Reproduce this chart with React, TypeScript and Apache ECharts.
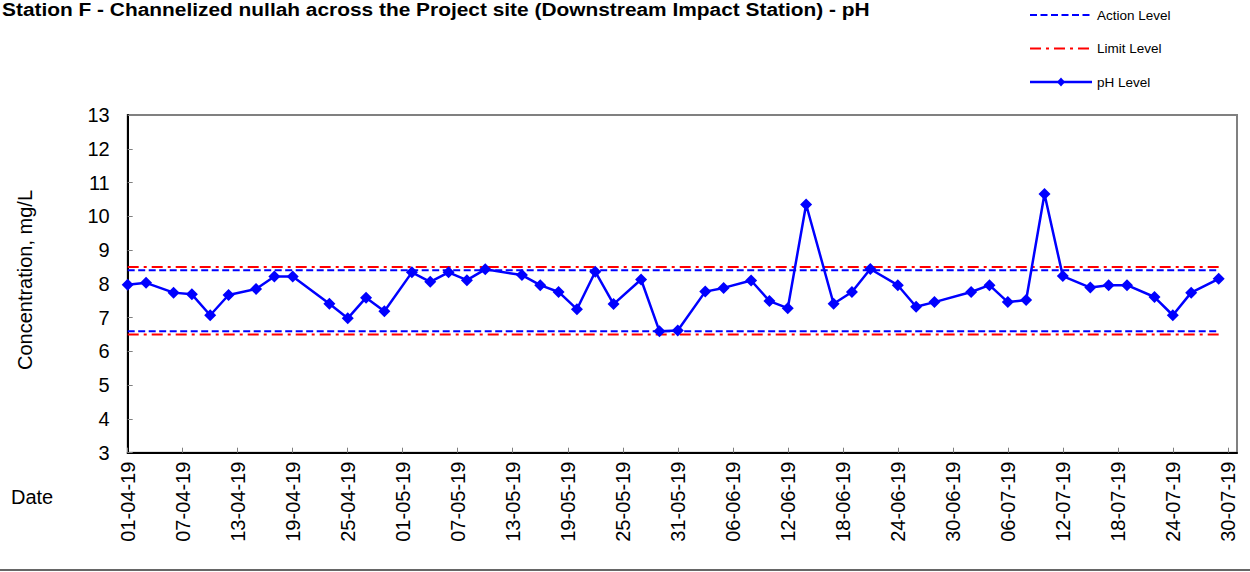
import React, { useEffect, useRef } from "react";
import * as echarts from "echarts";

const titleText =
  "Station F - Channelized nullah across the Project site (Downstream Impact Station) - pH";
const yAxisName = "Concentration, mg/L";
const xAxisName = "Date";
const legendNames = ["Action Level", "Limit Level", "pH Level"];

const sampleDates = [
  "01-04-19", "03-04-19", "06-04-19", "08-04-19", "10-04-19", "12-04-19", "15-04-19", "17-04-19", "19-04-19", "23-04-19",
  "25-04-19", "27-04-19", "29-04-19", "02-05-19", "04-05-19", "06-05-19", "08-05-19", "10-05-19", "14-05-19", "16-05-19",
  "18-05-19", "20-05-19", "22-05-19", "24-05-19", "27-05-19", "29-05-19", "31-05-19", "03-06-19", "05-06-19", "08-06-19",
  "10-06-19", "12-06-19", "14-06-19", "17-06-19", "19-06-19", "21-06-19", "24-06-19", "26-06-19", "28-06-19", "02-07-19",
  "04-07-19", "06-07-19", "08-07-19", "10-07-19", "12-07-19", "15-07-19", "17-07-19", "19-07-19", "22-07-19", "24-07-19",
  "26-07-19", "29-07-19",
];
const phValues = [
  7.97, 8.03, 7.74, 7.69, 7.07, 7.67, 7.85, 8.22, 8.22, 7.41,
  6.98, 7.59, 7.19, 8.34, 8.06, 8.34, 8.11, 8.43, 8.26, 7.96,
  7.76, 7.25, 8.36, 7.4, 8.13, 6.6, 6.62, 7.77, 7.88, 8.1,
  7.49, 7.28, 10.35, 7.41, 7.76, 8.44, 7.96, 7.32, 7.46, 7.76,
  7.96, 7.46, 7.52, 10.66, 8.23, 7.89, 7.96, 7.96, 7.61, 7.07,
  7.74, 8.15,
];
const actionLevels = [8.4, 6.6];
const limitLevels = [8.5, 6.5];
const axisStartDate = "01-04-19";
const axisEndDate = "31-07-19";
const levelStartDate = "01-04-19";
const levelEndDate = "29-07-19";
const xTickDays = 6;
const yMin = 3;
const yMax = 13;
const yStep = 1;

const DAY = 86400000;
function parseDate(s: string): number {
  const [d, m, y] = s.split("-").map((v) => parseInt(v, 10));
  return Date.UTC(2000 + y, m - 1, d);
}
const origin = parseDate(axisStartDate);
const toDay = (s: string) => Math.round((parseDate(s) - origin) / DAY);
const pad = (n: number) => (n < 10 ? "0" + n : "" + n);
function fmtDay(v: number): string {
  const dt = new Date(origin + Math.round(v) * DAY);
  return pad(dt.getUTCDate()) + "-" + pad(dt.getUTCMonth() + 1) + "-" + pad(dt.getUTCFullYear() % 100);
}

const FONT = "'Liberation Sans', Arial, sans-serif";
const BLUE = "#0000FF";
const RED = "#FF0000";
const ACTION_DASH = [7, 3.5];
const LIMIT_DASH = [11, 5, 3, 5];

export default function App() {
  const ref = useRef<HTMLDivElement>(null);
  useEffect(() => {
    if (!ref.current) return;
    const chart = echarts.init(ref.current, null, { renderer: "svg" });
    const phData = sampleDates.map((d, i) => [toDay(d), phValues[i]]);
    const x0 = toDay(levelStartDate);
    const x1 = toDay(levelEndDate);
    const levelSeries = (name: string, v: number, color: string, dash: number[]) => ({
      name,
      type: "line",
      data: [[x0, v], [x1, v]],
      symbol: "none",
      lineStyle: { color, width: 2, type: dash },
      itemStyle: { color },
      silent: true,
      z: 2,
    });

    const lgX1 = 1030;
    const lgX2 = 1092;
    const lgRows = [15, 48.5, 82];
    const legendGraphics: any[] = [];
    const legendStyles = [
      { stroke: BLUE, lineWidth: 2, lineDash: ACTION_DASH },
      { stroke: RED, lineWidth: 2, lineDash: LIMIT_DASH },
      { stroke: BLUE, lineWidth: 2.5 },
    ];
    legendNames.forEach((name, i) => {
      const y = lgRows[i];
      legendGraphics.push({
        type: "line",
        shape: { x1: lgX1, y1: y, x2: lgX2, y2: y },
        style: legendStyles[i],
      });
      legendGraphics.push({
        type: "text",
        x: 1097,
        y,
        style: {
          text: name,
          fontSize: 13.5,
          fontFamily: FONT,
          fill: "#000",
          align: "left",
          verticalAlign: "middle",
        },
      });
    });
    const cx = (lgX1 + lgX2) / 2;
    legendGraphics.push({
      type: "polygon",
      shape: { points: [[cx, lgRows[2] - 4.5], [cx + 4, lgRows[2]], [cx, lgRows[2] + 4.5], [cx - 4, lgRows[2]]] },
      style: { fill: BLUE },
    });

    chart.setOption({
      animation: false,
      textStyle: { fontFamily: FONT },
      grid: {
        left: 127.7,
        top: 115,
        right: 13,
        bottom: 119.3,
        show: true,
        borderColor: "#808080",
        borderWidth: 2,
      },
      xAxis: {
        type: "value",
        min: 0,
        max: toDay(axisEndDate),
        interval: xTickDays,
        splitLine: { show: false },
        axisLine: { show: true, onZero: false, lineStyle: { color: "#000", width: 2 } },
        axisTick: { show: true, inside: true, length: 5, lineStyle: { color: "#808080" } },
        axisLabel: {
          rotate: 90,
          margin: 9,
          fontSize: 20,
          color: "#000",
          fontFamily: FONT,
          showMaxLabel: false,
          formatter: (v: number) => fmtDay(v),
        },
      },
      yAxis: {
        type: "value",
        min: yMin,
        max: yMax,
        interval: yStep,
        splitLine: { show: false },
        axisLine: { show: true, lineStyle: { color: "#000", width: 2 } },
        axisTick: { show: true, inside: true, length: 5, lineStyle: { color: "#808080" } },
        axisLabel: { margin: 18, fontSize: 20, color: "#000", fontFamily: FONT },
      },
      graphic: [
        {
          type: "text",
          x: 2,
          y: 9,
          scaleX: 1.123,
          style: {
            text: titleText,
            fontSize: 18.6,
            fontWeight: "bold",
            fontFamily: FONT,
            fill: "#000",
            align: "left",
            verticalAlign: "middle",
          },
        },
        {
          type: "text",
          x: 25,
          y: 280,
          rotation: Math.PI / 2,
          style: {
            text: yAxisName,
            fontSize: 20,
            fontFamily: FONT,
            fill: "#000",
            align: "center",
            verticalAlign: "middle",
          },
        },
        {
          type: "text",
          x: 11,
          y: 497,
          style: {
            text: xAxisName,
            fontSize: 20,
            fontFamily: FONT,
            fill: "#000",
            align: "left",
            verticalAlign: "middle",
          },
        },
        {
          type: "line",
          shape: { x1: 0, y1: 570, x2: 1250, y2: 570 },
          style: { stroke: "#666", lineWidth: 2 },
        },
        ...legendGraphics,
      ],
      series: [
        levelSeries("Action Level", actionLevels[0], BLUE, ACTION_DASH),
        levelSeries("Action Level", actionLevels[1], BLUE, ACTION_DASH),
        levelSeries("Limit Level", limitLevels[0], RED, LIMIT_DASH),
        levelSeries("Limit Level", limitLevels[1], RED, LIMIT_DASH),
        {
          name: "pH Level",
          type: "line",
          data: phData,
          symbol: "diamond",
          symbolSize: 12,
          lineStyle: { color: BLUE, width: 2.5 },
          itemStyle: { color: BLUE },
          z: 5,
        },
      ],
    });
    return () => chart.dispose();
  }, []);
  return (
    <div
      ref={ref}
      style={{ position: "absolute", left: 0, top: 0, width: 1250, height: 572, background: "#fff" }}
    />
  );
}
